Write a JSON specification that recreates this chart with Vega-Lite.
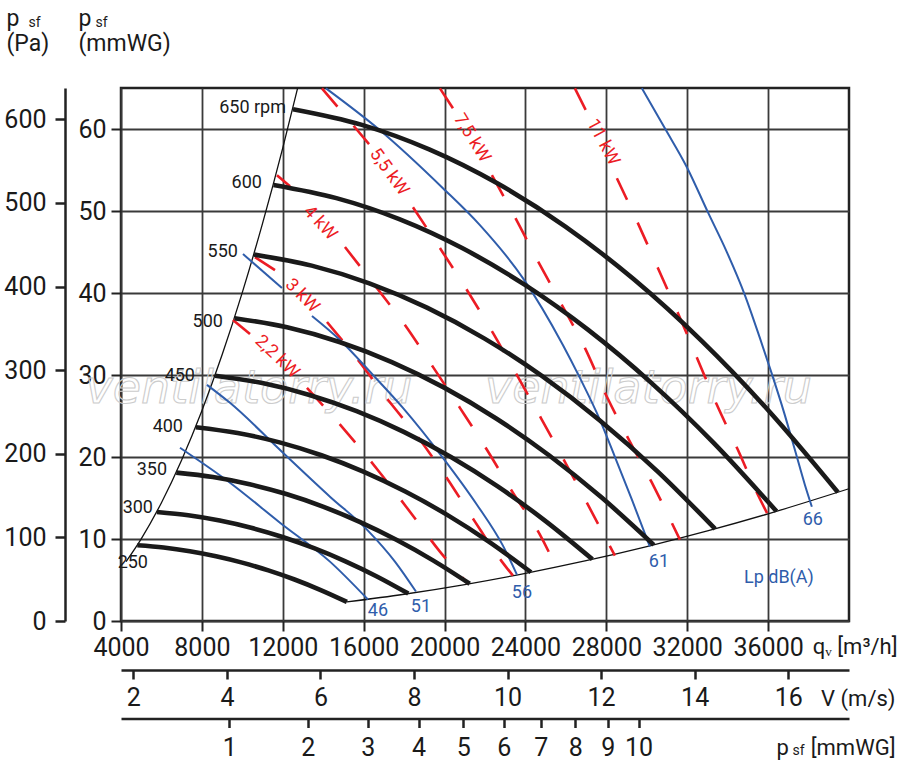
{
  "$schema": "https://vega.github.io/schema/vega-lite/v6.json",
  "width": 728,
  "height": 533,
  "autosize": {"type": "none"},
  "padding": {"left": 121, "top": 88, "right": 51, "bottom": 150},
  "background": "white",
  "datasets": {
    "rpm": [
      {"n": "650", "q": 12504, "p": 612.0}, {"n": "650", "q": 15872, "p": 593.6}, {"n": "650", "q": 19240, "p": 564.0},
      {"n": "650", "q": 22608, "p": 523.4}, {"n": "650", "q": 25976, "p": 471.7}, {"n": "650", "q": 29345, "p": 408.9},
      {"n": "650", "q": 32713, "p": 335.0}, {"n": "650", "q": 36081, "p": 250.0}, {"n": "650", "q": 39449, "p": 154.0},
      {"n": "600", "q": 11542, "p": 521.5}, {"n": "600", "q": 14651, "p": 505.7}, {"n": "600", "q": 17760, "p": 480.6},
      {"n": "600", "q": 20869, "p": 446.0}, {"n": "600", "q": 23978, "p": 401.9}, {"n": "600", "q": 27088, "p": 348.4},
      {"n": "600", "q": 30197, "p": 285.4}, {"n": "600", "q": 33306, "p": 213.0}, {"n": "600", "q": 36415, "p": 131.2},
      {"n": "550", "q": 10580, "p": 438.2}, {"n": "550", "q": 13430, "p": 425.0}, {"n": "550", "q": 16280, "p": 403.8},
      {"n": "550", "q": 19130, "p": 374.7}, {"n": "550", "q": 21980, "p": 337.7}, {"n": "550", "q": 24830, "p": 292.7},
      {"n": "550", "q": 27680, "p": 239.8}, {"n": "550", "q": 30530, "p": 179.0}, {"n": "550", "q": 33380, "p": 110.2},
      {"n": "500", "q": 9618, "p": 362.1}, {"n": "500", "q": 12209, "p": 351.2}, {"n": "500", "q": 14800, "p": 333.7},
      {"n": "500", "q": 17391, "p": 309.7}, {"n": "500", "q": 19982, "p": 279.1}, {"n": "500", "q": 22573, "p": 241.9},
      {"n": "500", "q": 25164, "p": 198.2}, {"n": "500", "q": 27755, "p": 147.9}, {"n": "500", "q": 30345, "p": 91.1},
      {"n": "450", "q": 8657, "p": 293.3}, {"n": "450", "q": 10988, "p": 284.5}, {"n": "450", "q": 13320, "p": 270.3},
      {"n": "450", "q": 15652, "p": 250.9}, {"n": "450", "q": 17983, "p": 226.1}, {"n": "450", "q": 20316, "p": 196.0},
      {"n": "450", "q": 22647, "p": 160.6}, {"n": "450", "q": 24979, "p": 119.8}, {"n": "450", "q": 27311, "p": 73.8},
      {"n": "400", "q": 7695, "p": 231.8}, {"n": "400", "q": 9767, "p": 224.8}, {"n": "400", "q": 11840, "p": 213.6},
      {"n": "400", "q": 13913, "p": 198.2}, {"n": "400", "q": 15985, "p": 178.6}, {"n": "400", "q": 18058, "p": 154.8},
      {"n": "400", "q": 20131, "p": 126.9}, {"n": "400", "q": 22204, "p": 94.7}, {"n": "400", "q": 24276, "p": 58.3},
      {"n": "350", "q": 6733, "p": 177.4}, {"n": "350", "q": 8546, "p": 172.1}, {"n": "350", "q": 10360, "p": 163.5},
      {"n": "350", "q": 12174, "p": 151.8}, {"n": "350", "q": 13987, "p": 136.8}, {"n": "350", "q": 15801, "p": 118.5},
      {"n": "350", "q": 17615, "p": 97.1}, {"n": "350", "q": 19428, "p": 72.5}, {"n": "350", "q": 21242, "p": 44.6},
      {"n": "300", "q": 5771, "p": 130.4}, {"n": "300", "q": 7326, "p": 126.4}, {"n": "300", "q": 8880, "p": 120.1},
      {"n": "300", "q": 10434, "p": 111.5}, {"n": "300", "q": 11989, "p": 100.5}, {"n": "300", "q": 13544, "p": 87.1},
      {"n": "300", "q": 15098, "p": 71.4}, {"n": "300", "q": 16653, "p": 53.3}, {"n": "300", "q": 18207, "p": 32.8},
      {"n": "250", "q": 4809, "p": 90.5}, {"n": "250", "q": 6105, "p": 87.8}, {"n": "250", "q": 7400, "p": 83.4},
      {"n": "250", "q": 8696, "p": 77.4}, {"n": "250", "q": 9991, "p": 69.8}, {"n": "250", "q": 11287, "p": 60.5},
      {"n": "250", "q": 12582, "p": 49.6}, {"n": "250", "q": 13877, "p": 37.0}, {"n": "250", "q": 15173, "p": 22.8}
    ],
    "rpmlab": [
      {"t": "650 rpm", "q": 12158, "p": 613.1}, {"t": "600", "q": 10971, "p": 523.6}, {"t": "550", "q": 9784, "p": 441.2},
      {"t": "500", "q": 9043, "p": 357.6}, {"t": "450", "q": 7659, "p": 293.1}, {"t": "400", "q": 7066, "p": 232.2},
      {"t": "350", "q": 6275, "p": 180.9}, {"t": "300", "q": 5582, "p": 135.5}, {"t": "250", "q": 5335, "p": 69.8}
    ],
    "stall": [
      {"q": 4250, "p": 71.0}, {"q": 5000, "p": 98.3}, {"q": 6000, "p": 141.5}, {"q": 7000, "p": 192.6},
      {"q": 8000, "p": 251.5}, {"q": 9000, "p": 318.3}, {"q": 10000, "p": 393.0}, {"q": 11000, "p": 475.5},
      {"q": 12000, "p": 565.9}, {"q": 12731, "p": 637.0}
    ],
    "bound": [
      {"q": 15173, "p": 22.8}, {"q": 18000, "p": 32.0}, {"q": 21000, "p": 43.6}, {"q": 24000, "p": 57.0},
      {"q": 27000, "p": 72.1}, {"q": 30000, "p": 89.0}, {"q": 33000, "p": 107.7}, {"q": 36000, "p": 128.2},
      {"q": 40000, "p": 158.2}
    ],
    "kw": [
      {"k": "2,2", "s": "a", "q": 9537, "p": 360.0}, {"k": "2,2", "s": "a", "q": 10378, "p": 343.3},
      {"k": "2,2", "s": "b", "q": 13196, "p": 278.8}, {"k": "2,2", "s": "b", "q": 15223, "p": 223.8},
      {"k": "2,2", "s": "b", "q": 16805, "p": 177.3}, {"k": "2,2", "s": "b", "q": 18288, "p": 130.7},
      {"k": "2,2", "s": "b", "q": 19771, "p": 83.0}, {"k": "2,2", "s": "b", "q": 21156, "p": 44.8},
      {"k": "3", "s": "a", "q": 10625, "p": 435.2}, {"k": "3", "s": "a", "q": 11614, "p": 419.7},
      {"k": "3", "s": "b", "q": 14185, "p": 357.6}, {"k": "3", "s": "b", "q": 15717, "p": 312.2},
      {"k": "3", "s": "b", "q": 17200, "p": 264.5}, {"k": "3", "s": "b", "q": 18783, "p": 216.7},
      {"k": "3", "s": "b", "q": 20167, "p": 169.0}, {"k": "3", "s": "b", "q": 21502, "p": 118.8},
      {"k": "3", "s": "b", "q": 22837, "p": 71.0}, {"k": "3", "s": "b", "q": 23380, "p": 54.3},
      {"k": "4", "s": "a", "q": 11713, "p": 533.1}, {"k": "4", "s": "a", "q": 12355, "p": 520.0},
      {"k": "4", "s": "b", "q": 15075, "p": 447.2}, {"k": "4", "s": "b", "q": 16805, "p": 393.4},
      {"k": "4", "s": "b", "q": 18041, "p": 354.0}, {"k": "4", "s": "b", "q": 19425, "p": 303.9},
      {"k": "4", "s": "b", "q": 20760, "p": 254.9}, {"k": "4", "s": "b", "q": 22095, "p": 204.8},
      {"k": "4", "s": "b", "q": 23380, "p": 153.4}, {"k": "4", "s": "b", "q": 24715, "p": 103.3},
      {"k": "4", "s": "b", "q": 25506, "p": 65.1},
      {"k": "5,5", "s": "a", "q": 13937, "p": 637.0}, {"k": "5,5", "s": "a", "q": 16311, "p": 569.0},
      {"k": "5,5", "s": "b", "q": 18437, "p": 494.9}, {"k": "5,5", "s": "b", "q": 19771, "p": 446.0},
      {"k": "5,5", "s": "b", "q": 21106, "p": 395.8}, {"k": "5,5", "s": "b", "q": 22392, "p": 344.5},
      {"k": "5,5", "s": "b", "q": 23628, "p": 291.9}, {"k": "5,5", "s": "b", "q": 24814, "p": 240.6},
      {"k": "5,5", "s": "b", "q": 25951, "p": 190.4}, {"k": "5,5", "s": "b", "q": 27088, "p": 139.1},
      {"k": "5,5", "s": "b", "q": 28423, "p": 78.2},
      {"k": "7,5", "s": "a", "q": 19771, "p": 637.0}, {"k": "7,5", "s": "a", "q": 20414, "p": 613.1},
      {"k": "7,5", "s": "b", "q": 22342, "p": 533.1}, {"k": "7,5", "s": "b", "q": 23479, "p": 483.0},
      {"k": "7,5", "s": "b", "q": 24616, "p": 430.4}, {"k": "7,5", "s": "b", "q": 25802, "p": 377.9},
      {"k": "7,5", "s": "b", "q": 26939, "p": 326.6}, {"k": "7,5", "s": "b", "q": 28028, "p": 268.1},
      {"k": "7,5", "s": "b", "q": 29066, "p": 219.1}, {"k": "7,5", "s": "b", "q": 30253, "p": 165.4},
      {"k": "7,5", "s": "b", "q": 31637, "p": 97.3},
      {"k": "11", "s": "a", "q": 26446, "p": 637.0}, {"k": "11", "s": "a", "q": 26990, "p": 610.7},
      {"k": "11", "s": "b", "q": 28522, "p": 529.5}, {"k": "11", "s": "b", "q": 29560, "p": 475.8},
      {"k": "11", "s": "b", "q": 30549, "p": 422.1}, {"k": "11", "s": "b", "q": 31538, "p": 368.3},
      {"k": "11", "s": "b", "q": 32527, "p": 312.2}, {"k": "11", "s": "b", "q": 33466, "p": 258.5},
      {"k": "11", "s": "b", "q": 34504, "p": 204.8}, {"k": "11", "s": "b", "q": 35493, "p": 151.0},
      {"k": "11", "s": "b", "q": 35988, "p": 127.2}
    ],
    "kwlab": [
      {"t": "2,2 kW", "q": 11713, "p": 315.8}, {"t": "3 kW", "q": 12949, "p": 388.6},
      {"t": "4 kW", "q": 13839, "p": 475.8}, {"t": "5,5 kW", "q": 17250, "p": 536.7},
      {"t": "7,5 kW", "q": 21353, "p": 577.3}, {"t": "11 kW", "q": 27830, "p": 572.5}
    ],
    "db": [
      {"d": "46", "s": "a", "q": 6917, "p": 207.2}, {"d": "46", "s": "a", "q": 9389, "p": 165.4},
      {"d": "46", "s": "a", "q": 11861, "p": 117.6}, {"d": "46", "s": "a", "q": 14333, "p": 71.0},
      {"d": "46", "s": "a", "q": 16212, "p": 25.7},
      {"d": "51", "s": "a", "q": 8252, "p": 282.4}, {"d": "51", "s": "a", "q": 9389, "p": 260.9},
      {"d": "51", "s": "a", "q": 12009, "p": 201.2}, {"d": "51", "s": "a", "q": 14333, "p": 148.7},
      {"d": "51", "s": "a", "q": 16162, "p": 109.3}, {"d": "51", "s": "a", "q": 17547, "p": 71.0},
      {"d": "51", "s": "a", "q": 18585, "p": 35.2},
      {"d": "56", "s": "a", "q": 10032, "p": 438.8}, {"d": "56", "s": "a", "q": 11960, "p": 398.2},
      {"d": "56", "s": "b", "q": 13443, "p": 364.8}, {"d": "56", "s": "b", "q": 14827, "p": 336.1},
      {"d": "56", "s": "b", "q": 16459, "p": 294.3}, {"d": "56", "s": "b", "q": 17942, "p": 254.9},
      {"d": "56", "s": "b", "q": 19920, "p": 195.2}, {"d": "56", "s": "b", "q": 21601, "p": 139.1},
      {"d": "56", "s": "b", "q": 22886, "p": 90.1}, {"d": "56", "s": "b", "q": 23578, "p": 55.5},
      {"d": "61", "s": "a", "q": 14135, "p": 637.0}, {"d": "61", "s": "a", "q": 16805, "p": 586.9},
      {"d": "61", "s": "a", "q": 19920, "p": 517.6}, {"d": "61", "s": "a", "q": 21749, "p": 473.4},
      {"d": "61", "s": "a", "q": 23875, "p": 410.1}, {"d": "61", "s": "a", "q": 25852, "p": 330.1},
      {"d": "61", "s": "a", "q": 26693, "p": 290.7}, {"d": "61", "s": "a", "q": 27682, "p": 240.6},
      {"d": "61", "s": "a", "q": 28423, "p": 196.4}, {"d": "61", "s": "a", "q": 29264, "p": 145.1},
      {"d": "61", "s": "a", "q": 30154, "p": 88.9},
      {"d": "66", "s": "a", "q": 29758, "p": 637.0}, {"d": "66", "s": "a", "q": 30895, "p": 589.2},
      {"d": "66", "s": "a", "q": 31983, "p": 542.7}, {"d": "66", "s": "a", "q": 33021, "p": 488.9},
      {"d": "66", "s": "a", "q": 33960, "p": 441.2}, {"d": "66", "s": "a", "q": 34850, "p": 389.8},
      {"d": "66", "s": "a", "q": 35592, "p": 338.5}, {"d": "66", "s": "a", "q": 36185, "p": 295.5},
      {"d": "66", "s": "a", "q": 36779, "p": 250.1}, {"d": "66", "s": "a", "q": 37323, "p": 204.8},
      {"d": "66", "s": "a", "q": 37817, "p": 163.0}, {"d": "66", "s": "a", "q": 38163, "p": 136.7}
    ],
    "dblab": [
      {"t": "46", "q": 16706, "p": 12.5}, {"t": "51", "q": 18832, "p": 17.3}, {"t": "56", "q": 23826, "p": 34.0},
      {"t": "61", "q": 30599, "p": 70.4}, {"t": "66", "q": 38212, "p": 121.2}, {"t": "Lp dB(A)", "q": 36532, "p": 51.9}
    ],
    "wm": [
      {"t": "ventilatorry.ru", "q": 10328, "p": 260.9}, {"t": "ventilatorry.ru", "q": 30080, "p": 260.9}
    ]
  },
  "layer": [
    {
      "encoding": {
        "x": {
          "field": "q", "type": "quantitative",
          "scale": {"domain": [4000, 40000], "nice": false, "zero": false},
          "axis": {
            "orient": "bottom", "values": [4000, 8000, 12000, 16000, 20000, 24000, 28000, 32000, 36000],
            "format": "d", "grid": true, "gridColor": "#3a3a3a", "gridWidth": 1.8, "domain": false,
            "tickSize": 10, "tickWidth": 2, "tickColor": "#222", "labelFontSize": 25, "labelPadding": 4,
            "labelFlush": false, "labelOverlap": false,
            "title": "qᵥ [m³/h]", "titleFontSize": 22, "titleAlign": "right", "titleBaseline": "middle",
            "titleX": 776, "titleY": 25
          }
        },
        "y": {
          "field": "p", "type": "quantitative",
          "scale": {"domain": [0, 637.4], "nice": false, "zero": false},
          "axis": {
            "orient": "left", "offset": 56, "values": [0, 100, 200, 300, 400, 500, 600], "grid": false,
            "domain": true, "domainColor": "#222", "domainWidth": 2.5, "tickSize": 10, "tickWidth": 2.5,
            "tickColor": "#222", "labelFontSize": 25, "labelPadding": 9,
            "title": ["\u00a0p", "(Pa)"], "titleAngle": 0, "titleAlign": "left", "titleBaseline": "alphabetic",
            "titleX": -59, "titleY": -63, "titleFontSize": 23, "titleLineHeight": 25
          }
        }
      },
      "layer": [
        {
          "data": {"name": "wm"},
          "mark": {"type": "text", "font": "DejaVu Sans", "fontStyle": "italic", "fontSize": 46,
                   "align": "center", "baseline": "alphabetic", "fill": "white", "fillOpacity": 0,
                   "stroke": "#cccccc", "strokeWidth": 1.1},
          "encoding": {"text": {"field": "t"}}
        },
        {
          "data": {"name": "stall"},
          "mark": {"type": "line", "color": "#111", "strokeWidth": 1.3, "interpolate": "monotone"}
        },
        {
          "data": {"name": "bound"},
          "mark": {"type": "line", "color": "#111", "strokeWidth": 1.3, "interpolate": "monotone"}
        },
        {
          "data": {"name": "kw"},
          "mark": {"type": "line", "color": "#ec1c24", "strokeWidth": 2.6, "strokeDash": [24, 25],
                   "interpolate": "monotone"},
          "encoding": {"detail": [{"field": "k"}, {"field": "s"}]}
        },
        {
          "data": {"name": "db"},
          "mark": {"type": "line", "color": "#2f5dab", "strokeWidth": 2, "interpolate": "monotone"},
          "encoding": {"detail": [{"field": "d"}, {"field": "s"}]}
        },
        {
          "data": {"name": "rpm"},
          "mark": {"type": "line", "color": "#1a1a1a", "strokeWidth": 4.6, "interpolate": "monotone",
                   "strokeCap": "butt"},
          "encoding": {"detail": {"field": "n"}}
        },
        {
          "data": {"name": "rpmlab"},
          "mark": {"type": "text", "align": "right", "baseline": "middle", "fontSize": 18, "color": "#1a1a1a"},
          "encoding": {"text": {"field": "t"}}
        },
        {
          "data": {"name": "dblab"},
          "mark": {"type": "text", "align": "center", "baseline": "middle", "fontSize": 18, "color": "#2f5dab"},
          "encoding": {"text": {"field": "t"}}
        },
        {
          "data": {"name": "kwlab"},
          "transform": [{"filter": {"field": "t", "equal": "2,2 kW"}}],
          "mark": {"type": "text", "align": "center", "baseline": "middle", "fontSize": 18, "color": "#ec1c24", "angle": 44},
          "encoding": {"text": {"field": "t"}}
        },
        {
          "data": {"name": "kwlab"},
          "transform": [{"filter": {"field": "t", "equal": "3 kW"}}],
          "mark": {"type": "text", "align": "center", "baseline": "middle", "fontSize": 18, "color": "#ec1c24", "angle": 45},
          "encoding": {"text": {"field": "t"}}
        },
        {
          "data": {"name": "kwlab"},
          "transform": [{"filter": {"field": "t", "equal": "4 kW"}}],
          "mark": {"type": "text", "align": "center", "baseline": "middle", "fontSize": 18, "color": "#ec1c24", "angle": 47},
          "encoding": {"text": {"field": "t"}}
        },
        {
          "data": {"name": "kwlab"},
          "transform": [{"filter": {"field": "t", "equal": "5,5 kW"}}],
          "mark": {"type": "text", "align": "center", "baseline": "middle", "fontSize": 18, "color": "#ec1c24", "angle": 54},
          "encoding": {"text": {"field": "t"}}
        },
        {
          "data": {"name": "kwlab"},
          "transform": [{"filter": {"field": "t", "equal": "7,5 kW"}}],
          "mark": {"type": "text", "align": "center", "baseline": "middle", "fontSize": 18, "color": "#ec1c24", "angle": 58},
          "encoding": {"text": {"field": "t"}}
        },
        {
          "data": {"name": "kwlab"},
          "transform": [{"filter": {"field": "t", "equal": "11 kW"}}],
          "mark": {"type": "text", "align": "center", "baseline": "middle", "fontSize": 18, "color": "#ec1c24", "angle": 62},
          "encoding": {"text": {"field": "t"}}
        }
      ]
    },
    {
      "data": {"values": [{"mm": 0, "d": 0}]},
      "mark": {"type": "point", "opacity": 0},
      "encoding": {
        "y": {
          "field": "mm", "type": "quantitative",
          "scale": {"domain": [0, 65], "nice": false, "zero": false},
          "axis": {
            "orient": "left", "offset": 0, "values": [0, 10, 20, 30, 40, 50, 60], "grid": true,
            "gridColor": "#3a3a3a", "gridWidth": 1.8, "domain": false, "tickSize": 10, "tickWidth": 2,
            "tickColor": "#222", "labelFontSize": 25, "labelPadding": 5,
            "title": ["p", "(mmWG)"], "titleAngle": 0, "titleAlign": "left", "titleBaseline": "alphabetic",
            "titleX": -43, "titleY": -63, "titleFontSize": 23, "titleLineHeight": 25
          }
        },
        "x": {
          "field": "d", "type": "quantitative",
          "scale": {"domain": [0, 1], "nice": false, "zero": false},
          "axis": {
            "orient": "bottom", "domain": false, "ticks": false, "labels": false, "grid": false,
            "title": "sf", "titleFontSize": 14, "titleAlign": "left", "titleBaseline": "alphabetic",
            "titleX": 671, "titleY": 133
          }
        }
      }
    },
    {
      "data": {"values": [{"V": 2, "d": 0}]},
      "mark": {"type": "point", "opacity": 0},
      "encoding": {
        "x": {
          "field": "V", "type": "quantitative",
          "scale": {"domain": [1.735, 17.3], "nice": false, "zero": false},
          "axis": {
            "orient": "bottom", "offset": 49, "values": [2, 4, 6, 8, 10, 12, 14, 16], "grid": false,
            "domain": true, "domainColor": "#222", "domainWidth": 2.5, "tickSize": 9, "tickWidth": 2.5,
            "tickColor": "#222", "labelFontSize": 25, "labelPadding": 6, "labelFlush": false,
            "labelOverlap": false,
            "title": "V (m/s)", "titleFontSize": 22, "titleAlign": "right", "titleBaseline": "middle",
            "titleX": 774, "titleY": 28
          }
        },
        "y": {
          "field": "d", "type": "quantitative",
          "scale": {"domain": [0, 1], "nice": false, "zero": false},
          "axis": {
            "orient": "left", "domain": false, "ticks": false, "labels": false, "grid": false,
            "title": "sf", "titleFontSize": 14, "titleAngle": 0, "titleAlign": "left",
            "titleBaseline": "alphabetic", "titleX": -93, "titleY": -62
          }
        }
      }
    },
    {
      "data": {"values": [{"pd": 1, "d": 0}]},
      "mark": {"type": "point", "opacity": 0},
      "encoding": {
        "x": {
          "field": "pd", "type": "quantitative",
          "scale": {"type": "pow", "exponent": 0.5, "domain": [0.1827, 18.27], "nice": false, "zero": false},
          "axis": {
            "orient": "bottom", "offset": 97.5, "values": [1, 2, 3, 4, 5, 6, 7, 8, 9, 10], "grid": false,
            "domain": true, "domainColor": "#222", "domainWidth": 2.5, "tickSize": 9, "tickWidth": 2.5,
            "tickColor": "#222", "labelFontSize": 25, "labelPadding": 8, "labelFlush": false,
            "labelOverlap": false,
            "title": "p\u00a0\u00a0\u00a0\u00a0[mmWG]", "titleFontSize": 22, "titleAlign": "right", "titleBaseline": "middle",
            "titleX": 774, "titleY": 29
          }
        },
        "y": {
          "field": "d", "type": "quantitative",
          "scale": {"domain": [0, 1], "nice": false, "zero": false},
          "axis": {
            "orient": "left", "domain": false, "ticks": false, "labels": false, "grid": false,
            "title": "sf", "titleFontSize": 14, "titleAngle": 0, "titleAlign": "left",
            "titleBaseline": "alphabetic", "titleX": -26, "titleY": -62
          }
        }
      }
    }
  ],
  "resolve": {
    "scale": {"x": "independent", "y": "independent"},
    "axis": {"x": "independent", "y": "independent"}
  },
  "config": {
    "font": "Roboto",
    "view": {"stroke": "#222", "strokeWidth": 2.5},
    "text": {"font": "Roboto"},
    "axis": {
      "labelFont": "Roboto", "titleFont": "Roboto", "titleFontWeight": "normal",
      "labelColor": "#1a1a1a", "titleColor": "#1a1a1a"
    }
  }
}
